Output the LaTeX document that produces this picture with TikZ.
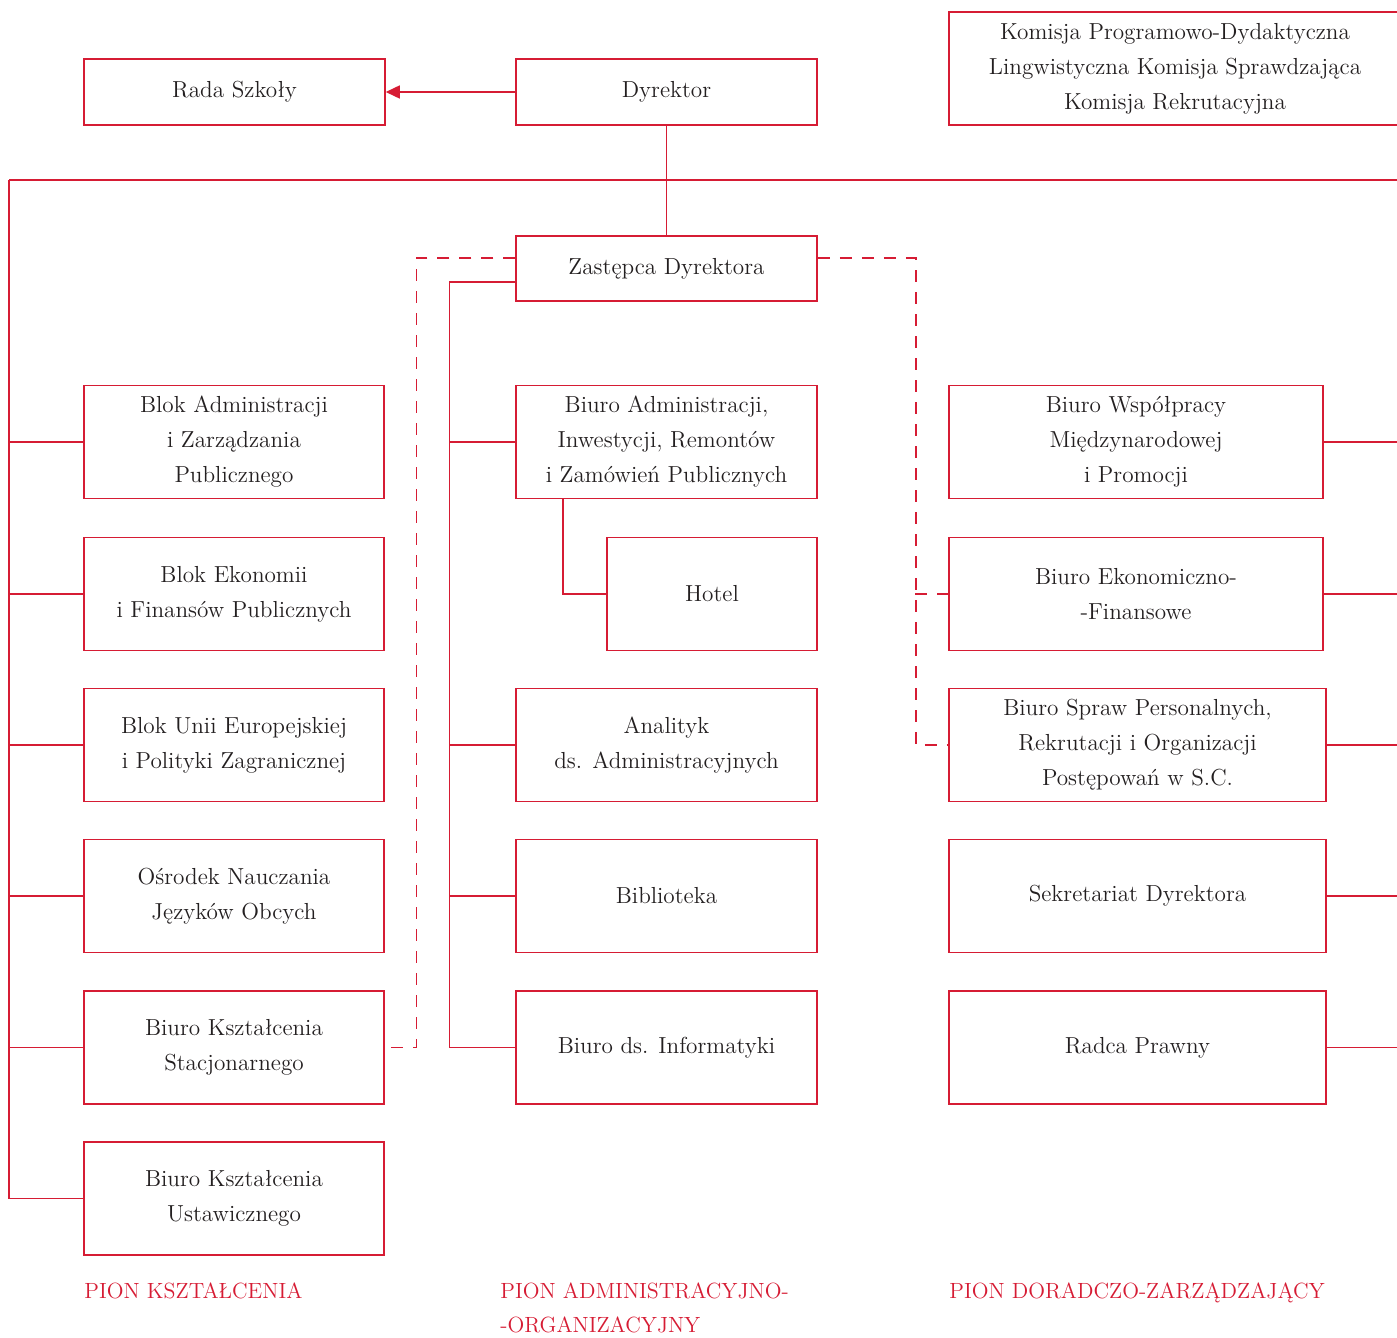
\documentclass[tikz,border=0pt]{standalone}
\usepackage{fontspec}
\usetikzlibrary{arrows.meta,calc}
\definecolor{pred}{RGB}{214,28,52}
\definecolor{ptext}{RGB}{35,31,32}
\begin{document}
\begin{tikzpicture}[x=0.5pt,y=-0.5pt,
  box/.style={draw=pred, line width=0.75pt, align=center, inner sep=0pt, text=ptext,
    font=\fontsize{11.6}{17.5}\selectfont},
  lbox/.style={box, minimum width=150pt, minimum height=56.5pt},
  mbox/.style={box, minimum width=150.5pt, minimum height=56.5pt},
  rbox/.style={box, minimum width=188.5pt, minimum height=56.5pt},
  conn/.style={draw=pred, line width=0.75pt},
  dconn/.style={conn, dash pattern=on 6pt off 5pt},
  pion/.style={text=pred, font=\fontsize{11}{17}\selectfont, align=left, inner sep=0pt, anchor=north west}]
\clip (0,0) rectangle (1397,1338);
% top row
\node[box, minimum width=150.5pt, minimum height=33pt] (rada) at (234.5,92) {Rada Szkoły};
\node[box, minimum width=150.5pt, minimum height=33pt] (dyr) at (666.5,92) {Dyrektor};
\node[box, minimum width=226pt, minimum height=56.5pt] (kom) at (1175,68.5) {Komisja Programowo-Dydaktyczna\\Lingwistyczna Komisja Sprawdzająca\\Komisja Rekrutacyjna};
\node[box, minimum width=150.5pt, minimum height=32.5pt] (zast) at (666.5,268.5) {Zastępca Dyrektora};
% left column
\node[lbox] (l1) at (234,442) {Blok Administracji\\i Zarządzania\\Publicznego};
\node[lbox] (l2) at (234,594) {Blok Ekonomii\\i Finansów Publicznych};
\node[lbox] (l3) at (234,745) {Blok Unii Europejskiej\\i Polityki Zagranicznej};
\node[lbox] (l4) at (234,896) {Ośrodek Nauczania\\Języków Obcych};
\node[lbox] (l5) at (234,1047.5) {Biuro Kształcenia\\Stacjonarnego};
\node[lbox] (l6) at (234,1198.5) {Biuro Kształcenia\\Ustawicznego};
% middle column
\node[mbox] (m1) at (666.5,442) {Biuro Administracji,\\Inwestycji, Remontów\\i Zamówień Publicznych};
\node[box, minimum width=105pt, minimum height=56.5pt] (hotel) at (712,594) {Hotel};
\node[mbox] (m3) at (666.5,745) {Analityk\\ds. Administracyjnych};
\node[mbox] (m4) at (666.5,896) {Biblioteka};
\node[mbox] (m5) at (666.5,1047.5) {Biuro ds. Informatyki};
% right column
\node[box, minimum width=187pt, minimum height=56.5pt] (r1) at (1136,442) {Biuro Współpracy\\Międzynarodowej\\i Promocji};
\node[box, minimum width=187pt, minimum height=56.5pt] (r2) at (1136,594) {Biuro Ekonomiczno-\\-Finansowe};
\node[rbox] (r3) at (1137.5,745) {Biuro Spraw Personalnych,\\Rekrutacji i Organizacji\\Postępowań w S.C.};
\node[rbox] (r4) at (1137.5,896) {Sekretariat Dyrektora};
\node[rbox] (r5) at (1137.5,1047.5) {Radca Prawny};
% labels
\node[pion] (p1) at (84,1282) {PION KSZTAŁCENIA};
\node[pion] (p2) at (500,1282) {PION ADMINISTRACYJNO-\\-ORGANIZACYJNY};
\node[pion] (p3) at (949,1282) {PION DORADCZO-ZARZĄDZAJĄCY};
% coordinates
\coordinate (ltop) at (9,180);
\coordinate (rtop) at (1397,180);
\coordinate (hx) at (563,0);
\coordinate (dx) at (915,0);
% connectors
\draw[conn,-{Triangle[length=7pt,width=6.5pt]}] (dyr.west) -- (rada.east);
\draw[conn] (dyr.south) -- (zast.north);
\draw[conn] (ltop) -- (rtop);
\draw[conn] (ltop) |- (l6.west);
\foreach \n in {l1,l2,l3,l4,l5} {\draw[conn] (\n.west) -- (\n.west -| ltop);}
\foreach \n in {r1,r2,r3,r4,r5} {\draw[conn] (\n.east) -- (\n.east -| rtop);}
\draw[conn] ($(zast.west)+(0,13.5)$) -- ++(-66,0) |- (m5.west);
\foreach \n in {m1,m3,m4} {\draw[conn] (\n.west) -- ++(-66,0);}
\draw[conn] (m1.south -| hx) |- (hotel.west);
\draw[dconn] ($(zast.west)+(0,-10.5)$) -- ++(-99,0) |- (l5.east);
\draw[dconn] ($(zast.east)+(0,-10.5)$) -- ++(98,0) |- (r3.west);
\draw[dconn] (r2.west -| dx) -- (r2.west);
\end{tikzpicture}
\end{document}
